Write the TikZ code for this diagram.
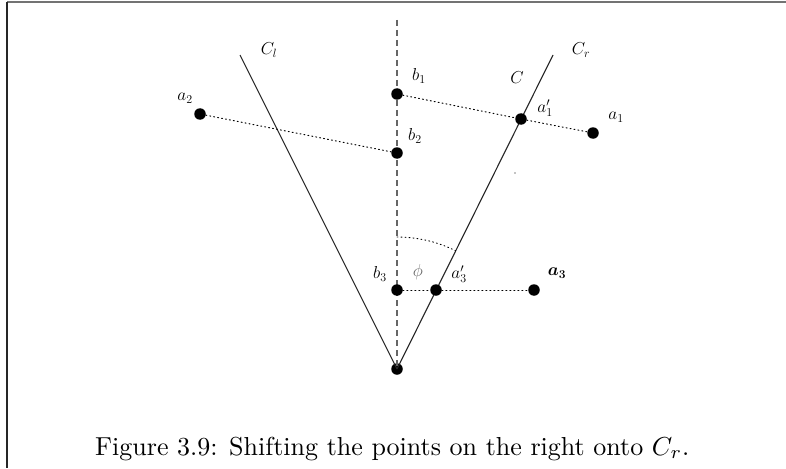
\documentclass[tikz,border=0pt]{standalone}
\usepackage{graphicx}
\usepackage{bm}
\begin{document}
\begin{tikzpicture}[x=1pt,y=-1pt,
  dot/.style={circle,fill=black,inner sep=0pt,minimum size=11.5pt},
  lbl/.style={inner sep=0pt,font=\fontsize{17}{19}\selectfont},
  cone/.style={line width=1.1pt,black!85},
  axis/.style={line width=1.5pt,black!60,dash pattern=on 6pt off 4pt},
  proj/.style={line width=1pt,dash pattern=on 1pt off 3pt,line cap=round},
  frame/.style={line width=1.6pt}]
\useasboundingbox (0,0) rectangle (786,468);
\fill[white] (0,0) rectangle (786,468);
% frame
\coordinate (ftl) at (7,2);
\coordinate (ftr) at (786,2);
\coordinate (fbl) at (7,468);
\draw[frame,black!55] (ftl) -- (ftr);
\draw[frame,black!85] (ftl) -- (fbl);
% points
\coordinate (top) at (397,20);
\coordinate (cl) at (240,55);
\coordinate (cr) at (553,55);
\node[dot] (o) at (397,369) {};
\draw[axis] (top) -- (o.center);
\draw[cone] (cl) -- (o.center);
\draw[cone] (cr) -- (o.center);
\node[dot] (b1) at (397,94) {};
\node[dot] (b2) at (397,153) {};
\node[dot] (b3) at (397,290) {};
\node[dot] (a2) at (200,114) {};
\node[dot] (a1) at (593,133) {};
\node[dot] (a1p) at (521,119) {};
\node[dot] (a3) at (534,290) {};
\node[dot] (a3p) at (436,290) {};
\draw[proj] (a2) -- (b2);
\draw[proj] (b1) -- (a1p);
\draw[proj] (a1p) -- (a1);
\draw[proj] (b3) -- (a3p);
\draw[proj] (a3p) -- (a3);
% angle arc
\coordinate (arcs) at (397,237);
\draw[proj,line width=0.9pt] (arcs) arc[start angle=-90,end angle=-63.6,radius=132];
% stray speck
\fill (515,173) circle (0.6pt);
% labels
\node[lbl] (lcl) at (269,50) {$C_l$};
\node[lbl] (lcr) at (581,50) {$C_r$};
\node[lbl] (lc) at (517,78) {$C$};
\node[lbl] (lb1) at (419,76) {$b_1$};
\node[lbl] (lb2) at (415,136) {$b_2$};
\node[lbl] (lb3) at (380,274) {$b_3$};
\node[lbl] (la1p) at (545,108) {$a'_1$};
\node[lbl] (la1) at (616,117) {$a_1$};
\node[lbl] (la2) at (185,98) {$a_2$};
\node[lbl,text=black!60] (lphi) at (418,272) {$\phi$};
\node[lbl] (la3p) at (459,274) {$a'_3$};
\node[lbl] (la3) at (557,273) {$\bm{a_3}$};
% caption
\node[inner sep=0pt,anchor=base west] (cap) at (95,455)
  {\resizebox{594pt}{!}{Figure 3.9: Shifting the points on the right onto $C_r$.}};
\end{tikzpicture}
\end{document}
